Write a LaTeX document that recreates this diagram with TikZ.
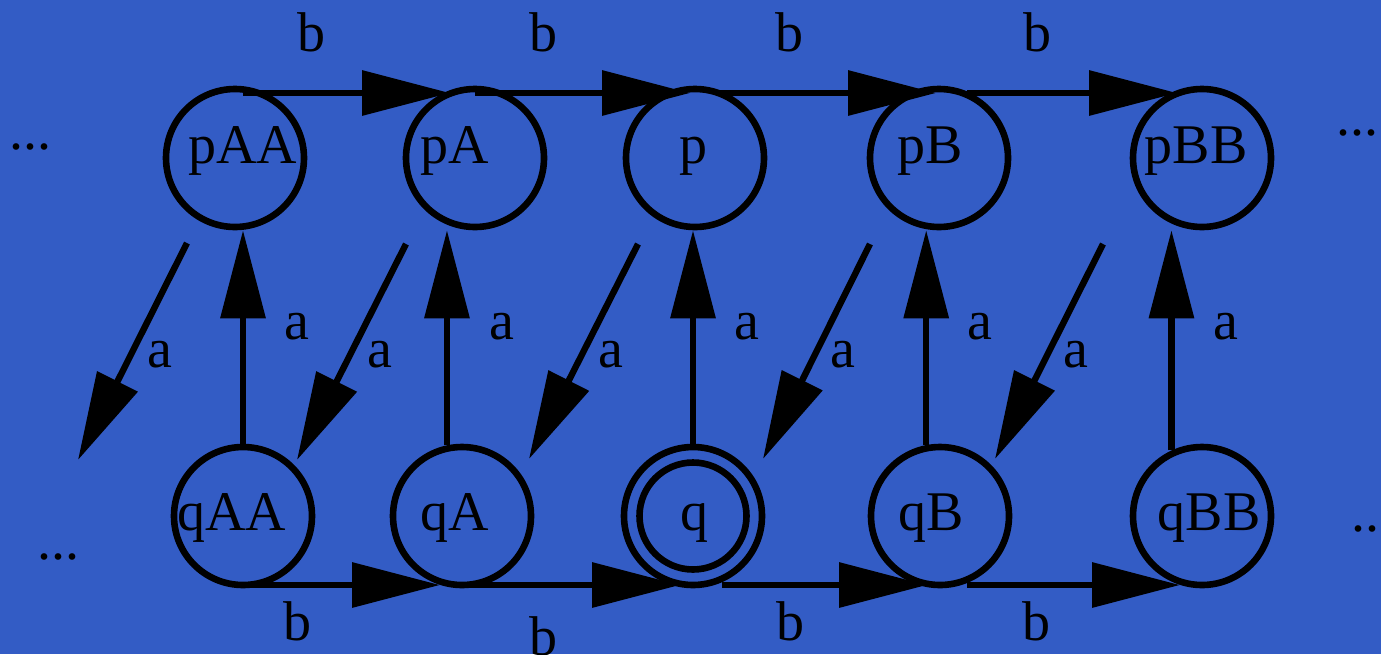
\documentclass[tikz,border=0pt]{standalone}
\usepackage{fontspec}
\setmainfont{Liberation Serif}
\usetikzlibrary{arrows.meta,calc}
\definecolor{bgblue}{RGB}{51,92,197}
\begin{document}
\begin{tikzpicture}[x=0.5pt,y=-0.5pt,
  state/.style={circle,draw,line width=3.3pt,minimum size=69pt,inner sep=0pt},
  edge/.style={line width=3.2pt,-{Triangle[length=44pt,width=22pt]}},
  txt/.style={font=\fontsize{28pt}{34pt}\selectfont,inner sep=0pt,anchor=base},
]
\useasboundingbox (0,0) rectangle (1381,654);
\clip (0,0) rectangle (1381,654);
\fill[bgblue] (0,0) rectangle (1381,654);

% states
\node[state] (pAA) at (235,158) {};
\node[state] (pA)  at (475,158) {};
\node[state] (p)   at (695,158) {};
\node[state] (pB)  at (939,158) {};
\node[state] (pBB) at (1202,158) {};
\node[state] (qAA) at (243,516) {};
\node[state] (qA)  at (462,516) {};
\node[state] (q)   at (693,516) {};
\node[state] (qB)  at (940,516) {};
\node[state] (qBB) at (1202,516) {};
\draw[line width=3.3pt] (q.center) circle (26.75pt);

% state names
\node[txt] (tpAA) at (243,163) {pAA};
\node[txt] (tpA)  at (455,163) {pA};
\node[txt] (tp)   at (693,163) {p};
\node[txt] (tpB)  at (930,163) {pB};
\node[txt] (tpBB) at (1196,163) {pBB};
\node[txt] (tqAA) at (232,530) {qAA};
\node[txt] (tqA)  at (455,530) {qA};
\node[txt] (tq)   at (694,530) {q};
\node[txt] (tqB)  at (931,530) {qB};
\node[txt] (tqBB) at (1209,530) {qBB};

% ellipses
\node[txt] (d1) at (31,149) {...};
\node[txt] (d2) at (58,559) {...};
\node[txt] (d3) at (1357,135) {...};
\node[txt] (d4) at (1372,531) {...};

% top b edges
\draw[edge] ($(pAA)+(8,-65)$) -- ($(pA)+(-25,-65)$);
\draw[edge] ($(pA)+(0,-65)$) -- ($(p)+(-5,-65)$);
\draw[edge] ($(p)+(25,-65)$) -- ($(pB)+(-3,-65)$);
\draw[edge] ($(pB)+(28,-65)$) -- ($(pBB)+(-25,-65)$);
% bottom b edges
\draw[edge] ($(qAA)+(0,69)$) -- ($(qA)+(-22,69)$);
\draw[edge] ($(qA)+(0,69)$) -- ($(q)+(-13,69)$);
\draw[edge] ($(q)+(29,69)$) -- ($(qB)+(-13,69)$);
\draw[edge] ($(qB)+(27,69)$) -- ($(qBB)+(-22,69)$);

% vertical a edges
\draw[edge] (qAA.north) -- (qAA.north |- pAA.south);
\draw[edge] (qA.102) -- (qA.102 |- pA.south);
\draw[edge] (q.north) -- (q.north |- p.south);
\draw[edge] (qB.101) -- (qB.101 |- pB.south);
\draw[edge] (qBB.115) -- (qBB.115 |- pBB.south);

% diagonal a edges
\coordinate (s1) at ($(pAA)+(-48,85)$);
\coordinate (t1) at ($(qAA)+(-165,-56)$);
\coordinate (s2) at ($(pA)+(-69,86)$);
\coordinate (t2) at ($(qAA)+(54,-56)$);
\coordinate (s3) at ($(p)+(-57,86)$);
\coordinate (t3) at ($(qA)+(67,-57)$);
\coordinate (s4) at ($(pB)+(-69,86)$);
\coordinate (t4) at ($(q)+(70,-57)$);
\coordinate (s5) at ($(pBB)+(-99,86)$);
\coordinate (t5) at ($(qB)+(55,-57)$);
\draw[edge] (s1) -- (t1);
\draw[edge] (s2) -- (t2);
\draw[edge] (s3) -- (t3);
\draw[edge] (s4) -- (t4);
\draw[edge] (s5) -- (t5);

% b labels
\node[txt] (b1) at (311,51) {b};
\node[txt] (b2) at (543,51) {b};
\node[txt] (b3) at (789,51) {b};
\node[txt] (b4) at (1037,51) {b};
\node[txt] (b5) at (297,640) {b};
\node[txt] (b6) at (543,655) {b};
\node[txt] (b7) at (790,640) {b};
\node[txt] (b8) at (1036,640) {b};

% a labels
\node[txt] (a1) at (160,367) {a};
\node[txt] (a2) at (297,339) {a};
\node[txt] (a3) at (380,367) {a};
\node[txt] (a4) at (502,339) {a};
\node[txt] (a5) at (611,367) {a};
\node[txt] (a6) at (747,339) {a};
\node[txt] (a7) at (843,367) {a};
\node[txt] (a8) at (980,339) {a};
\node[txt] (a9) at (1076,367) {a};
\node[txt] (a10) at (1226,339) {a};
\end{tikzpicture}
\end{document}
